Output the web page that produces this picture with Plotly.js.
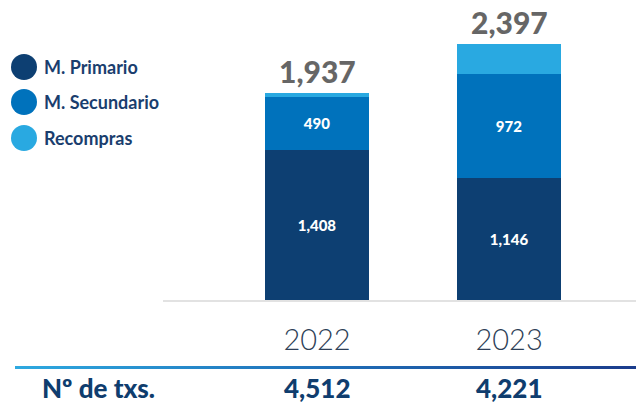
<!DOCTYPE html>
<html>
<head>
<meta charset="utf-8">
<script src="https://cdn.plot.ly/plotly-3.0.1.min.js"></script>
<style>
  html, body { margin: 0; padding: 0; background: #fff; }
  #wrap { position: relative; width: 636px; height: 407px; }
  #chart { width: 636px; height: 407px; }
  #grad { position: absolute; left: 15px; top: 366px; width: 621px; height: 3px;
          background: linear-gradient(to right, #2ea9e0, #1f6fb8 50%, #1b3c8c); }
</style>
</head>
<body>
<div id="wrap">
  <div id="chart"></div>
  <div id="grad"></div>
</div>
<script>
const years = ['2022', '2023'];
const primario = [1408, 1146];
const secundario = [490, 972];
const recompras = [39, 279];
const totales = [1937, 2397];
const txs = [4512, 4221];
const seriesNames = ['M. Primario', 'M. Secundario', 'Recompras'];
const colors = ['#0d3f72', '#0072bc', '#29a9e1'];

const fmt = v => v.toLocaleString('en-US');

const labelFont = { color: '#fff', size: 15, family: 'Lato', weight: 900 };
const traces = [
  { type: 'bar', x: years, y: primario, name: seriesNames[0], marker: { color: colors[0] },
    text: primario.map(fmt), textposition: 'inside', insidetextanchor: 'middle',
    textfont: labelFont, width: 0.542, hoverinfo: 'skip' },
  { type: 'bar', x: years, y: secundario, name: seriesNames[1], marker: { color: colors[1] },
    text: secundario.map(fmt), textposition: 'inside', insidetextanchor: 'middle',
    textfont: labelFont, width: 0.542, hoverinfo: 'skip' },
  { type: 'bar', x: years, y: recompras, name: seriesNames[2], marker: { color: colors[2] },
    textposition: 'none', width: 0.542, hoverinfo: 'skip' }
];

const annotations = [];
years.forEach((yr, i) => {
  annotations.push({ x: i, y: totales[i], xref: 'x', yref: 'y', text: fmt(totales[i]),
    showarrow: false, yanchor: 'bottom', yshift: 2,
    font: { family: 'Lato', size: 30, color: '#666666', weight: 900 } });
  annotations.push({ x: i, y: -0.3165, xref: 'x', yref: 'paper', text: fmt(txs[i]),
    showarrow: false, yanchor: 'middle',
    font: { family: 'Lato', size: 26, color: '#0f3d6e', weight: 900 } });
});
annotations.push({ x: 0, xref: 'paper', xshift: 40 - 163, y: -0.3165, yref: 'paper', text: 'Nº de txs.',
  showarrow: false, xanchor: 'left', yanchor: 'middle',
  font: { family: 'Lato', size: 26, color: '#0f3d6e', weight: 900 } });

const shapes = [];
const legendY = [67, 102, 138];
seriesNames.forEach((n, i) => {
  const yp = (300 - legendY[i]) / 278;
  shapes.push({ type: 'circle', xref: 'paper', yref: 'paper', xsizemode: 'pixel', ysizemode: 'pixel',
    xanchor: 0, yanchor: yp, x0: 11 - 163, x1: 37 - 163, y0: -13, y1: 13,
    fillcolor: colors[i], line: { width: 0 } });
  annotations.push({ x: 0, xref: 'paper', xshift: 42 - 163, y: yp, yref: 'paper',
    text: n, showarrow: false, xanchor: 'left', yanchor: 'middle',
    font: { family: 'Lato', size: 18, color: '#1a3e6e', weight: 700 } });
});

const layout = {
  width: 636, height: 407,
  margin: { l: 163, r: 0, t: 22, b: 107, pad: 0 },
  barmode: 'stack',
  showlegend: false,
  paper_bgcolor: '#fff', plot_bgcolor: '#fff',
  xaxis: { type: 'category', range: [-0.802, 1.661], showline: true, linecolor: '#e2e2e2', linewidth: 2,
    showgrid: false, zeroline: false, ticks: '', ticklabelstandoff: 13,
    tickfont: { family: 'Lato', size: 29, color: '#2e3f57', weight: 300 }, fixedrange: true },
  yaxis: { range: [0, 2603], visible: false, showgrid: false, zeroline: false, fixedrange: true },
  annotations, shapes, font: { family: 'Lato' }
};

Plotly.newPlot('chart', traces, layout, { displayModeBar: false, staticPlot: true });
</script>
</body>
</html>
